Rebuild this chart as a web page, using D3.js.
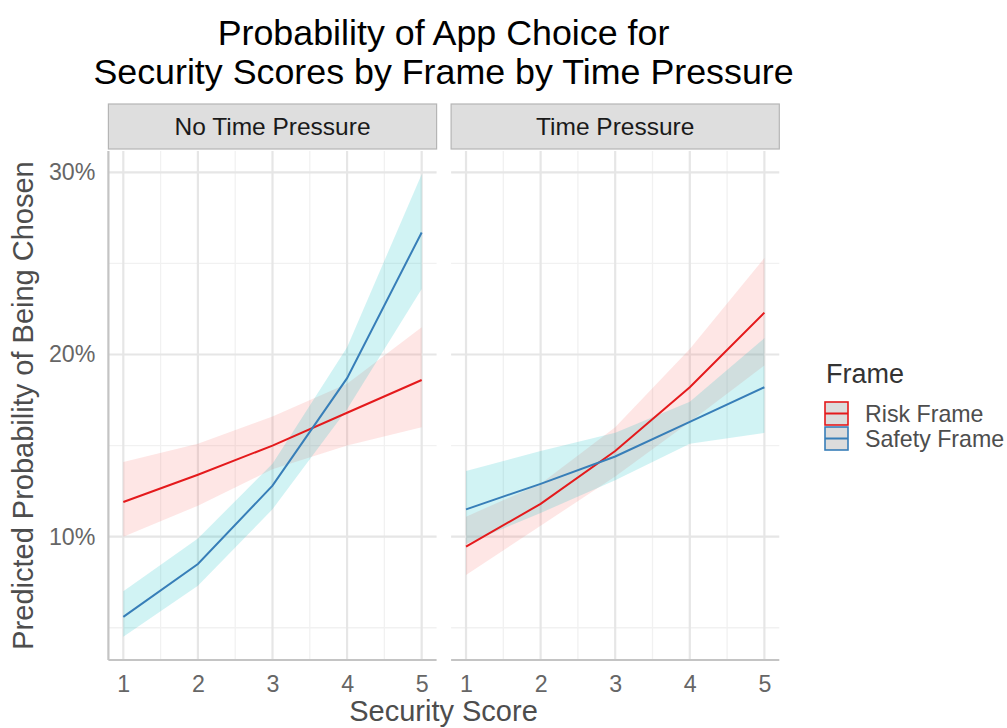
<!DOCTYPE html>
<html>
<head>
<meta charset="utf-8">
<script src="https://cdn.jsdelivr.net/npm/d3@7"></script>
<style>
  body { margin: 0; background: #ffffff; }
  text { font-family: 'Liberation Sans', Arial, sans-serif; }
</style>
</head>
<body>
<script>
// Data (percent).
const scores = [1, 2, 3, 4, 5];
const panels = ['No Time Pressure', 'Time Pressure'];
const frames = ['Risk Frame', 'Safety Frame'];

// No Time Pressure.
const riskNoTP = [11.9, 13.4, 15.0, 16.8, 18.6];
const riskNoTPLow = [10.0, 11.7, 13.7, 15.0, 16.0];
const riskNoTPHigh = [14.1, 15.1, 16.6, 18.4, 21.5];
const safeNoTP = [5.6, 8.5, 12.8, 18.7, 26.7];
const safeNoTPLow = [4.5, 7.3, 11.5, 17.0, 23.6];
const safeNoTPHigh = [7.0, 9.9, 14.0, 20.4, 29.9];

// Time Pressure.
const riskTP = [9.45, 11.8, 14.7, 18.2, 22.3];
const riskTPLow = [7.9, 10.6, 13.3, 16.3, 19.4];
const riskTPHigh = [11.1, 12.9, 16.0, 20.3, 25.3];
const safeTP = [11.5, 12.9, 14.4, 16.3, 18.2];
const safeTPLow = [9.6, 11.3, 13.1, 15.1, 15.7];
const safeTPHigh = [13.6, 14.7, 15.7, 17.4, 20.9];

const yMajor = [10, 20, 30];
const yMinor = [5, 15, 25];
const xMinor = [1.5, 2.5, 3.5, 4.5];

const lineColors = ['#e41a1c', '#377eb8'];
const bandColors = ['#f8766d', '#00bfc4'];

// Build series per panel.
function series(mid, low, high) {
  return scores.map((s, i) => ({x: s, y: mid[i], lo: low[i], hi: high[i]}));
}
const data = [
  [series(riskNoTP, riskNoTPLow, riskNoTPHigh), series(safeNoTP, safeNoTPLow, safeNoTPHigh)],
  [series(riskTP, riskTPLow, riskTPHigh), series(safeTP, safeTPLow, safeTPHigh)]
];

// Dimensions.
const width = 1007;
const height = 728;
const panelLeft = [108.4, 451.1];
const panelWidth = 328.2;
const panelTop = 151;
const panelBottom = 660;

const svg = d3.select('body')
  .append('svg')
  .attr('width', width)
  .attr('height', height);

// Y scale with ggplot-like 5% expansion.
const allLo = d3.min(data.flat(2), (d) => d.lo);
const allHi = d3.max(data.flat(2), (d) => d.hi);
const pad = (allHi - allLo) * 0.05;
const yScale = d3.scaleLinear()
  .domain([allLo - pad, allHi + pad])
  .range([panelBottom, panelTop]);

// Title.
const title = svg.append('text')
  .attr('x', 443.5)
  .attr('text-anchor', 'middle')
  .style('font-size', '35.8px')
  .attr('fill', '#000000');
title.append('tspan').attr('x', 443.5).attr('y', 45).text('Probability of App Choice for');
title.append('tspan').attr('x', 443.5).attr('y', 84).text('Security Scores by Frame by Time Pressure');

panels.forEach((name, p) => {
  const x0 = panelLeft[p];
  const xScale = d3.scaleLinear()
    .domain([0.8, 5.2])
    .range([x0, x0 + panelWidth]);

  const g = svg.append('g');

  // Strip.
  g.append('rect')
    .attr('x', x0)
    .attr('y', 104)
    .attr('width', panelWidth)
    .attr('height', 45)
    .attr('fill', '#dedede')
    .attr('stroke', '#b5b5b5')
    .attr('stroke-width', 1.2);
  g.append('text')
    .attr('x', x0 + panelWidth / 2)
    .attr('y', 135)
    .attr('text-anchor', 'middle')
    .style('font-size', '24.5px')
    .attr('fill', '#1a1a1a')
    .text(name);

  // Grid.
  g.selectAll('.ymin').data(yMinor).enter().append('line')
    .attr('x1', x0).attr('x2', x0 + panelWidth)
    .attr('y1', (d) => yScale(d)).attr('y2', (d) => yScale(d))
    .attr('stroke', '#f1f1f1').attr('stroke-width', 1.3);
  g.selectAll('.xmin').data(xMinor).enter().append('line')
    .attr('x1', (d) => xScale(d)).attr('x2', (d) => xScale(d))
    .attr('y1', panelTop).attr('y2', panelBottom)
    .attr('stroke', '#f1f1f1').attr('stroke-width', 1.3);
  g.selectAll('.ymaj').data(yMajor).enter().append('line')
    .attr('x1', x0).attr('x2', x0 + panelWidth)
    .attr('y1', (d) => yScale(d)).attr('y2', (d) => yScale(d))
    .attr('stroke', '#e6e6e6').attr('stroke-width', 2.2);
  g.selectAll('.xmaj').data(scores).enter().append('line')
    .attr('x1', (d) => xScale(d)).attr('x2', (d) => xScale(d))
    .attr('y1', panelTop).attr('y2', panelBottom)
    .attr('stroke', '#e6e6e6').attr('stroke-width', 2.2);

  // Ribbons.
  const area = d3.area()
    .x((d) => xScale(d.x))
    .y0((d) => yScale(d.lo))
    .y1((d) => yScale(d.hi));
  data[p].forEach((s, k) => {
    g.append('path')
      .attr('d', area(s))
      .attr('fill', bandColors[k])
      .attr('fill-opacity', 0.18);
  });

  // Lines.
  const line = d3.line()
    .x((d) => xScale(d.x))
    .y((d) => yScale(d.y));
  data[p].forEach((s, k) => {
    g.append('path')
      .attr('d', line(s))
      .attr('fill', 'none')
      .attr('stroke', lineColors[k])
      .attr('stroke-width', 2);
  });

  // Axes.
  const xAxis = d3.axisBottom(xScale).tickValues(scores).tickSize(0).tickPadding(16)
    .tickFormat(d3.format('d'));
  const gx = g.append('g')
    .attr('transform', 'translate(0,' + panelBottom + ')')
    .call(xAxis);
  gx.select('.domain').attr('stroke', '#c4c4c4').attr('stroke-width', 2.2)
    .attr('d', 'M' + x0 + ',0H' + (x0 + panelWidth));
  gx.selectAll('text').style('font-size', '23.2px').attr('fill', '#666666')
    .attr('dy', '0.71em');

  if (p === 0) {
    const yAxis = d3.axisLeft(yScale).tickValues(yMajor).tickSize(0).tickPadding(13)
      .tickFormat((d) => d + '%');
    const gy = g.append('g')
      .attr('transform', 'translate(' + x0 + ',0)')
      .call(yAxis);
    gy.select('.domain').attr('stroke', '#c4c4c4').attr('stroke-width', 2.2)
      .attr('d', 'M0,' + panelTop + 'V' + panelBottom);
    gy.selectAll('text').style('font-size', '23.2px').attr('fill', '#666666');
  }
});

// Axis titles.
svg.append('text')
  .attr('x', 443.5)
  .attr('y', 721)
  .attr('text-anchor', 'middle')
  .style('font-size', '29px')
  .attr('fill', '#4d4d4d')
  .text('Security Score');
svg.append('text')
  .attr('transform', 'translate(33,' + ((panelTop + panelBottom) / 2) + ') rotate(-90)')
  .attr('text-anchor', 'middle')
  .style('font-size', '29px')
  .attr('fill', '#4d4d4d')
  .text('Predicted Probability of Being Chosen');

// Legend.
const legend = svg.append('g');
legend.append('text')
  .attr('x', 826)
  .attr('y', 383)
  .style('font-size', '27px')
  .attr('fill', '#333333')
  .text('Frame');
frames.forEach((f, k) => {
  const ky = 401 + k * 25;
  legend.append('rect')
    .attr('x', 825).attr('y', ky + 1)
    .attr('width', 23).attr('height', 23)
    .attr('fill', '#dcdcdc')
    .attr('stroke', lineColors[k])
    .attr('stroke-width', 1.6);
  legend.append('line')
    .attr('x1', 825).attr('x2', 848)
    .attr('y1', ky + 12.5).attr('y2', ky + 12.5)
    .attr('stroke', lineColors[k])
    .attr('stroke-width', 2);
  legend.append('text')
    .attr('x', 865)
    .attr('y', ky + 12.5)
    .attr('dy', '0.35em')
    .style('font-size', '23.2px')
    .attr('fill', '#4d4d4d')
    .text(f);
});
</script>
</body>
</html>
